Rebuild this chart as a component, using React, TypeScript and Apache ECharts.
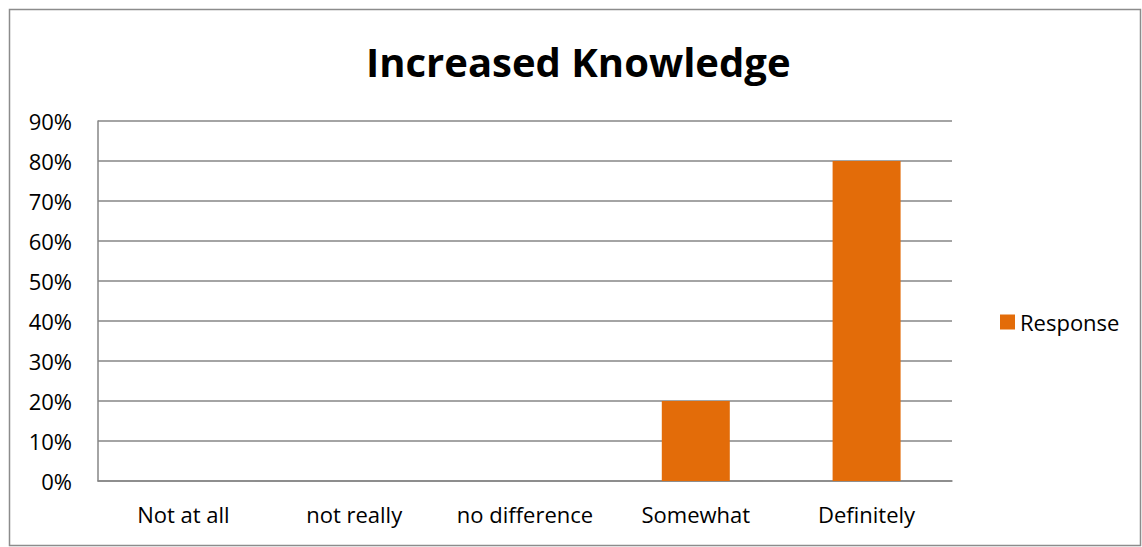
import React, { useEffect, useRef } from "react";
import * as echarts from "echarts";

const categories = ["Not at all", "not really", "no difference", "Somewhat", "Definitely"];
const responseValues = [0, 0, 0, 20, 80];
const seriesName = "Response";
const titleText = "Increased Knowledge";

export default function App() {
  const ref = useRef<HTMLDivElement>(null);
  useEffect(() => {
    if (!ref.current) return;
    const chart = echarts.init(ref.current, undefined, { renderer: "svg" });
    const font = "Open Sans, Calibri, sans-serif";
    chart.setOption({
      animation: false,
      backgroundColor: "#ffffff",
      title: {
        text: titleText,
        left: 361,
        top: 36,
        textStyle: { fontFamily: font, fontWeight: "bold", fontSize: 40, color: "#000" },
      },
      graphic: [
        {
          type: "rect",
          shape: { x: 9.5, y: 9.5, width: 1131, height: 536 },
          style: { fill: "none", stroke: "#8c8c8c", lineWidth: 1.5 },
          silent: true,
        },
      ],
      legend: {
        data: [{ name: seriesName, icon: "rect" }],
        left: 995,
        top: 306,
        itemWidth: 15,
        itemHeight: 15,
        itemGap: 6,
        textStyle: { fontFamily: font, fontSize: 22, color: "#000" },
      },
      grid: { left: 98, right: 190, top: 121, bottom: 66, containLabel: false },
      xAxis: {
        type: "category",
        data: categories,
        axisLine: { show: true, lineStyle: { color: "#868686", width: 1.5 } },
        axisTick: { show: false },
        axisLabel: { fontFamily: font, fontSize: 22, color: "#000", margin: 22, interval: 0 },
      },
      yAxis: {
        type: "value",
        min: 0,
        max: 90,
        interval: 10,
        axisLine: { show: true, lineStyle: { color: "#868686", width: 1.5 } },
        axisTick: { show: false },
        splitLine: { show: true, lineStyle: { color: "#868686", width: 1.5 } },
        axisLabel: { fontFamily: font, fontSize: 22, color: "#000", margin: 26, formatter: "{value}%" },
      },
      series: [
        {
          name: seriesName,
          type: "bar",
          data: responseValues,
          barWidth: 68,
          itemStyle: { color: "#E36C09" },
        },
      ],
    });
    return () => chart.dispose();
  }, []);
  return <div ref={ref} style={{ position: "absolute", left: 0, top: 0, width: 1142, height: 547 }} />;
}
